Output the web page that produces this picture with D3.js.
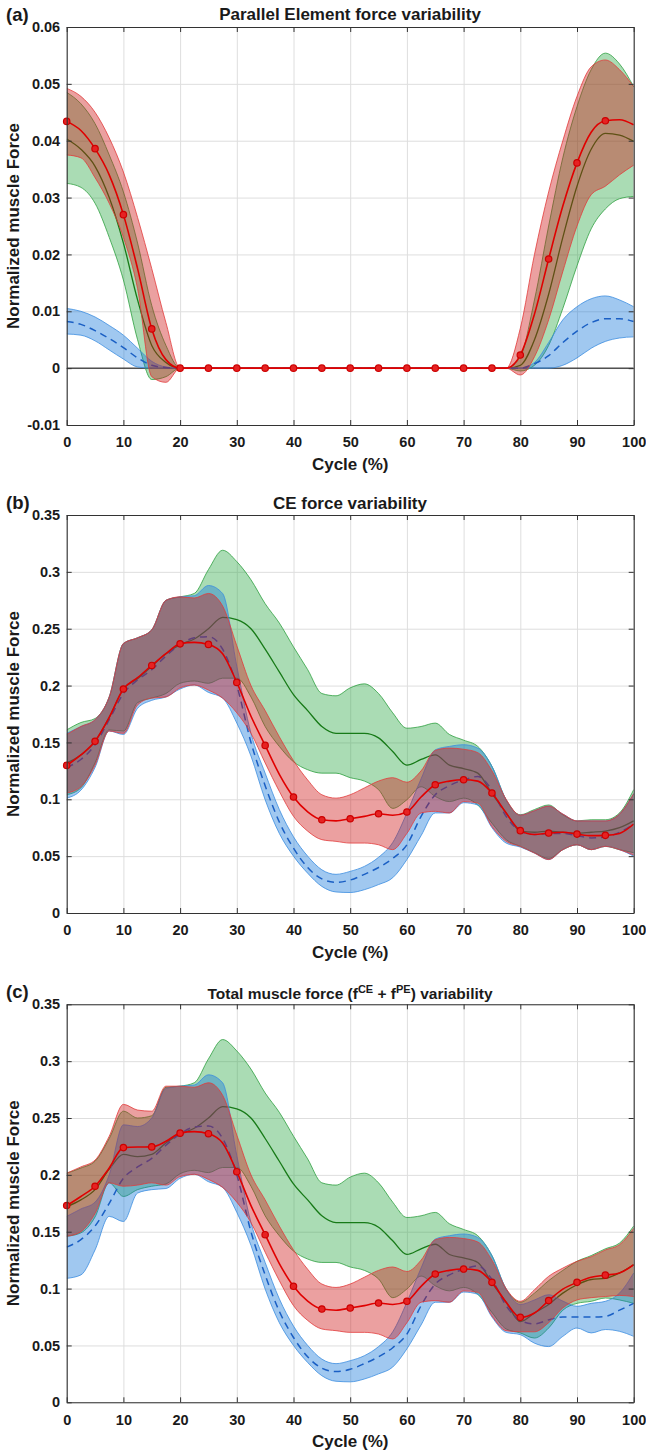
<!DOCTYPE html>
<html lang="en">
<head>
<meta charset="UTF-8">
<title>Muscle force variability</title>
<script src="https://d3js.org/d3.v7.min.js"></script>
<style>
  body { margin: 0; background: #fff; }
  svg { display: block; font-family: "Liberation Sans", Arial, sans-serif; }
  text { font-weight: bold; fill: #1a1a1a; }
</style>
</head>
<body>
<svg width="646" height="1456"></svg>
<script>
// cycle grid (%), one value every 2.5 %
const cycle = [0,2.5,5,7.5,10,12.5,15,17.5,20,22.5,25,27.5,30,32.5,35,37.5,40,42.5,45,47.5,50,
  52.5,55,57.5,60,62.5,65,67.5,70,72.5,75,77.5,80,82.5,85,87.5,90,92.5,95,97.5,100];
const markerCycle = [0,5,10,15,20,25,30,35,40,45,50,55,60,65,70,75,80,85,90,95];

const xTicks = [0,10,20,30,40,50,60,70,80,90,100];
const xTickLabels = ["0","10","20","30","40","50","60","70","80","90","100"];
const yTicksPE = [-0.01,0,0.01,0.02,0.03,0.04,0.05,0.06];
const yTickLabelsPE = ["-0.01","0","0.01","0.02","0.03","0.04","0.05","0.06"];
const yTicksF = [0,0.05,0.1,0.15,0.2,0.25,0.3,0.35];
const yTickLabelsF = ["0","0.05","0.1","0.15","0.2","0.25","0.3","0.35"];

// (a) parallel element force
const blueMeanA = [0.0082,0.0077,0.0066,0.0052,0.0036,0.0018,0.0005,0.0001,0,
  0,0,0,0,0,0,0,0,0,0,0,0,0,0,0,0,0,0,0,0,0,0,0,
  0,0.0008,0.0022,0.0045,0.0065,0.008,0.0087,0.0087,0.0082];
const blueHiA = [0.0105,0.0100,0.0090,0.0075,0.0058,0.0035,0.0012,0.0002,0,
  0,0,0,0,0,0,0,0,0,0,0,0,0,0,0,0,0,0,0,0,0,0,0,
  0,0.001,0.0045,0.0085,0.0108,0.0122,0.0127,0.012,0.0108];
const blueLoA = [0.006,0.0058,0.0048,0.0032,0.0016,0.0002,0,0,0,
  0,0,0,0,0,0,0,0,0,0,0,0,0,0,0,0,0,0,0,0,0,0,0,
  0,0,0,0.0005,0.0018,0.0035,0.0047,0.0053,0.0055];
const greenMeanA = [0.0403,0.0385,0.0355,0.030,0.022,0.012,0.004,0.001,0,
  0,0,0,0,0,0,0,0,0,0,0,0,0,0,0,0,0,0,0,0,0,0,0,
  0.0005,0.005,0.013,0.023,0.032,0.0385,0.0413,0.041,0.0399];
const greenHiA = [0.0485,0.0465,0.043,0.0375,0.031,0.022,0.011,0.004,0,
  0,0,0,0,0,0,0,0,0,0,0,0,0,0,0,0,0,0,0,0,0,0,0,
  0.002,0.012,0.025,0.037,0.046,0.0525,0.0554,0.0535,0.0495];
const greenLoA = [0.0325,0.0318,0.029,0.023,0.0155,0.005,-0.002,-0.0015,0,
  0,0,0,0,0,0,0,0,0,0,0,0,0,0,0,0,0,0,0,0,0,0,0,
  -0.0005,0.0005,0.004,0.0105,0.018,0.0245,0.028,0.0298,0.0302];
const redMeanA = [0.0434,0.0418,0.0386,0.034,0.027,0.0175,0.0069,0.0015,0,
  0,0,0,0,0,0,0,0,0,0,0,0,0,0,0,0,0,0,0,0,0,0,0,
  0.0023,0.0095,0.0192,0.0285,0.0361,0.0415,0.0435,0.0437,0.0428];
const redHiA = [0.0492,0.0478,0.045,0.0405,0.0345,0.0265,0.0175,0.008,0,
  0,0,0,0,0,0,0,0,0,0,0,0,0,0,0,0,0,0,0,0,0,0,0,
  0.007,0.020,0.031,0.040,0.0478,0.053,0.0542,0.0525,0.0495];
const redLoA = [0.0375,0.037,0.0335,0.029,0.023,0.014,-0.0015,-0.0025,0,
  0,0,0,0,0,0,0,0,0,0,0,0,0,0,0,0,0,0,0,0,0,0,0,
  -0.0012,0.002,0.0085,0.017,0.025,0.0305,0.032,0.034,0.0357];

// (b) CE force
const blueMeanB = [0.128,0.135,0.148,0.170,0.193,0.205,0.214,0.226,0.236,
  0.242,0.243,0.232,0.200,0.150,0.112,0.080,0.057,0.040,0.030,0.027,0.029,0.034,0.040,0.048,0.060,0.085,0.104,0.112,0.117,0.120,0.108,0.085,
  0.072,0.069,0.070,0.070,0.068,0.066,0.067,0.071,0.078];
const blueHiB = [0.158,0.164,0.170,0.190,0.237,0.242,0.249,0.275,0.278,
  0.279,0.288,0.281,0.217,0.158,0.123,0.091,0.067,0.050,0.038,0.034,0.0366,0.041,0.049,0.062,0.088,0.118,0.1435,0.1465,0.148,0.145,0.129,0.0996,
  0.086,0.090,0.094,0.087,0.081,0.081,0.081,0.087,0.105];
const blueLoB = [0.101,0.108,0.128,0.160,0.157,0.180,0.187,0.190,0.197,
  0.2005,0.194,0.189,0.167,0.138,0.0996,0.070,0.050,0.035,0.0234,0.0185,0.018,0.0205,0.025,0.031,0.047,0.068,0.088,0.088,0.097,0.095,0.075,0.0615,
  0.058,0.0527,0.047,0.0557,0.060,0.0557,0.0586,0.0557,0.050];
const greenMeanB = [0.132,0.139,0.151,0.172,0.197,0.206,0.217,0.228,0.236,
  0.241,0.250,0.260,0.258,0.250,0.232,0.212,0.192,0.178,0.164,0.158,0.158,0.158,0.154,0.142,0.130,0.135,0.139,0.130,0.127,0.123,0.105,0.088,
  0.072,0.071,0.072,0.071,0.070,0.071,0.072,0.075,0.081];
const greenHiB = [0.161,0.1675,0.171,0.19,0.237,0.242,0.249,0.275,0.278,
  0.281,0.302,0.319,0.309,0.293,0.272,0.255,0.234,0.214,0.193,0.191,0.198,0.2015,0.193,0.176,0.1625,0.164,0.167,0.157,0.152,0.1465,0.129,0.0996,
  0.0864,0.091,0.095,0.0864,0.081,0.082,0.082,0.088,0.1085];
const greenLoB = [0.104,0.110,0.132,0.161,0.160,0.185,0.189,0.193,0.202,
  0.204,0.202,0.2065,0.2065,0.19,0.164,0.1465,0.133,0.126,0.123,0.123,0.119,0.116,0.1085,0.092,0.0996,0.111,0.1025,0.098,0.101,0.095,0.079,0.0645,
  0.0586,0.053,0.048,0.0557,0.060,0.0557,0.0586,0.0557,0.053];
const redMeanB = [0.1298,0.139,0.151,0.172,0.197,0.207,0.2177,0.228,0.2367,
  0.238,0.2362,0.228,0.2028,0.173,0.1474,0.122,0.102,0.089,0.082,0.081,0.0829,0.085,0.0873,0.086,0.0888,0.102,0.1128,0.116,0.1172,0.116,0.1055,0.088,
  0.0724,0.069,0.0703,0.071,0.0694,0.068,0.0683,0.070,0.0782];
const redHiB = [0.157,0.164,0.170,0.19,0.237,0.242,0.249,0.275,0.278,
  0.277,0.281,0.270,0.235,0.20,0.178,0.155,0.134,0.117,0.104,0.101,0.104,0.110,0.116,0.119,0.115,0.125,0.143,0.145,0.144,0.141,0.125,0.100,
  0.086,0.090,0.094,0.087,0.081,0.081,0.081,0.087,0.105];
const redLoB = [0.1055,0.111,0.130,0.160,0.158,0.183,0.189,0.190,0.198,
  0.2005,0.196,0.189,0.176,0.158,0.132,0.107,0.085,0.072,0.0645,0.063,0.0615,0.0615,0.060,0.0557,0.070,0.088,0.0894,0.088,0.098,0.0967,0.076,0.063,
  0.0586,0.0527,0.047,0.0557,0.060,0.0557,0.0586,0.0557,0.051];

// (c) total force
const blueMeanC = [0.1365,0.143,0.155,0.175,0.197,0.207,0.2145,0.226,0.236,
  0.242,0.243,0.232,0.200,0.150,0.112,0.080,0.057,0.040,0.030,0.027,0.029,0.034,0.040,0.048,0.060,0.085,0.104,0.112,0.117,0.120,0.108,0.085,
  0.072,0.069,0.0725,0.075,0.075,0.075,0.0755,0.081,0.087];
const blueHiC = [0.1635,0.170,0.176,0.200,0.244,0.2425,0.250,0.276,0.278,
  0.279,0.288,0.281,0.217,0.158,0.123,0.091,0.067,0.050,0.038,0.034,0.0366,0.041,0.049,0.062,0.088,0.118,0.1435,0.1465,0.148,0.145,0.129,0.0996,
  0.086,0.090,0.0946,0.089,0.0844,0.087,0.0888,0.096,0.1137];
const blueLoC = [0.109,0.112,0.134,0.1635,0.159,0.184,0.187,0.188,0.197,
  0.2005,0.194,0.189,0.167,0.138,0.0996,0.070,0.050,0.035,0.0234,0.0185,0.018,0.0205,0.025,0.031,0.047,0.068,0.088,0.088,0.097,0.095,0.075,0.0615,
  0.0595,0.052,0.049,0.058,0.0653,0.061,0.064,0.0624,0.058];
const greenMeanC = [0.172,0.178,0.187,0.205,0.218,0.216,0.218,0.228,0.236,
  0.241,0.250,0.260,0.258,0.250,0.232,0.212,0.192,0.178,0.164,0.158,0.158,0.158,0.154,0.142,0.130,0.135,0.139,0.130,0.127,0.123,0.105,0.088,
  0.071,0.0785,0.086,0.096,0.1034,0.108,0.109,0.1137,0.121];
const greenHiC = [0.2015,0.206,0.212,0.232,0.256,0.250,0.252,0.277,0.278,
  0.281,0.302,0.319,0.309,0.293,0.272,0.255,0.234,0.214,0.193,0.191,0.198,0.2015,0.193,0.176,0.1625,0.164,0.167,0.157,0.152,0.1465,0.129,0.0996,
  0.088,0.096,0.107,0.116,0.124,0.129,0.135,0.140,0.155];
const greenLoC = [0.146,0.149,0.163,0.193,0.181,0.187,0.190,0.192,0.201,
  0.204,0.202,0.2065,0.2065,0.19,0.164,0.1465,0.133,0.126,0.123,0.123,0.119,0.116,0.1085,0.092,0.0996,0.111,0.1025,0.098,0.101,0.095,0.079,0.0645,
  0.061,0.0565,0.0653,0.081,0.087,0.0888,0.0917,0.090,0.087];
const redMeanC = [0.173,0.181,0.190,0.206,0.224,0.2245,0.2246,0.2295,0.2367,
  0.238,0.2362,0.228,0.2028,0.173,0.1474,0.122,0.102,0.089,0.082,0.081,0.0829,0.085,0.0873,0.086,0.0888,0.102,0.1128,0.116,0.1172,0.116,0.1055,0.088,
  0.0747,0.0785,0.0895,0.0995,0.1055,0.110,0.1118,0.1137,0.121];
const redHiC = [0.2015,0.207,0.213,0.234,0.262,0.257,0.256,0.278,0.278,
  0.277,0.281,0.270,0.235,0.20,0.178,0.155,0.134,0.117,0.104,0.101,0.104,0.110,0.116,0.119,0.115,0.125,0.143,0.145,0.144,0.141,0.125,0.100,
  0.0888,0.099,0.1108,0.118,0.124,0.128,0.134,0.1386,0.153];
const redLoC = [0.146,0.150,0.166,0.193,0.190,0.191,0.193,0.191,0.1985,
  0.2005,0.196,0.189,0.176,0.158,0.132,0.107,0.085,0.072,0.0645,0.063,0.0615,0.0615,0.060,0.0557,0.070,0.088,0.0894,0.088,0.098,0.0967,0.076,0.063,
  0.062,0.062,0.070,0.083,0.090,0.092,0.093,0.094,0.093];

const svg = d3.select("svg");
const left = 66.7, plotW = 567, plotH = 398;

// green first, then blue, then red on top
const look = {
  green: {fill: "rgb(42,167,67)",  op: 0.4, edge: "#2f9f40", line: "#177a17", width: 1.3, dash: null},
  blue:  {fill: "rgb(18,117,217)", op: 0.4, edge: "#3b8de0", line: "#1a5fc4", width: 1.5, dash: "7,5"},
  red:   {fill: "rgb(205,18,18)",  op: 0.4, edge: "#e23b3b", line: "#e00000", width: 1.6, dash: null}
};

const panels = [
  {tag: "(a)", top: 27, domain: [-0.01, 0.06], ticks: yTicksPE, tickLabels: yTickLabelsPE, zero: true,
   series: [["green", greenMeanA, greenLoA, greenHiA], ["blue", blueMeanA, blueLoA, blueHiA], ["red", redMeanA, redLoA, redHiA]]},
  {tag: "(b)", top: 515, domain: [0, 0.35], ticks: yTicksF, tickLabels: yTickLabelsF, zero: false,
   series: [["green", greenMeanB, greenLoB, greenHiB], ["blue", blueMeanB, blueLoB, blueHiB], ["red", redMeanB, redLoB, redHiB]]},
  {tag: "(c)", top: 1004.3, domain: [0, 0.35], ticks: yTicksF, tickLabels: yTickLabelsF, zero: false,
   series: [["green", greenMeanC, greenLoC, greenHiC], ["blue", blueMeanC, blueLoC, blueHiC], ["red", redMeanC, redLoC, redHiC]]}
];

const x = d3.scaleLinear().domain([0, 100]).range([left, left + plotW]);

panels.forEach((p, pi) => {
  const y = d3.scaleLinear().domain(p.domain).range([p.top + plotH, p.top]);
  const g = svg.append("g");

  // grid
  g.append("g")
    .attr("transform", `translate(0,${p.top + plotH})`)
    .call(d3.axisBottom(x).tickValues(xTicks).tickSize(-plotH).tickFormat(""))
    .call(s => s.select(".domain").remove())
    .selectAll("line").attr("stroke", "#dedede");
  g.append("g")
    .attr("transform", `translate(${left},0)`)
    .call(d3.axisLeft(y).tickValues(p.ticks).tickSize(-plotW).tickFormat(""))
    .call(s => s.select(".domain").remove())
    .selectAll("line").attr("stroke", "#dedede");

  g.append("clipPath").attr("id", "clip" + pi)
    .append("rect").attr("x", left).attr("y", p.top).attr("width", plotW).attr("height", plotH);
  const plot = g.append("g").attr("clip-path", `url(#clip${pi})`);

  if (p.zero) {
    plot.append("line")
      .attr("x1", left).attr("x2", left + plotW)
      .attr("y1", y(0)).attr("y2", y(0))
      .attr("stroke", "#000").attr("stroke-width", 1);
  }

  let redMean = null;
  p.series.forEach(([kind, mean, lo, hi]) => {
    const st = look[kind];
    const area = d3.area().curve(d3.curveMonotoneX)
      .x((d, i) => x(cycle[i])).y0((d, i) => y(lo[i])).y1((d, i) => y(hi[i]));
    const line = d3.line().curve(d3.curveMonotoneX).x((d, i) => x(cycle[i])).y(d => y(d));
    plot.append("path").attr("d", area(cycle))
      .attr("fill", st.fill).attr("fill-opacity", st.op);
    [lo, hi].forEach(edge => {
      plot.append("path").attr("d", line(edge))
        .attr("fill", "none").attr("stroke", st.edge).attr("stroke-width", 0.8);
    });
    plot.append("path").attr("d", line(mean))
      .attr("fill", "none").attr("stroke", st.line).attr("stroke-width", st.width)
      .attr("stroke-dasharray", st.dash);
    if (kind === "red") redMean = mean;
  });

  // red markers every 5 % (not clipped, like the original)
  g.selectAll(null)
    .data(markerCycle)
    .enter().append("circle")
    .attr("cx", c => x(c))
    .attr("cy", c => y(redMean[cycle.indexOf(c)]))
    .attr("r", 3.2)
    .attr("fill", "#e62222").attr("stroke", "#cc0000").attr("stroke-width", 1.2);

  // axes box with inward ticks
  const axisColor = "#333";
  const bottom = g.append("g").attr("transform", `translate(0,${p.top + plotH})`)
    .call(d3.axisBottom(x).tickValues(xTicks).tickSizeInner(-5).tickSizeOuter(0).tickPadding(12)
      .tickFormat((d, i) => xTickLabels[i]));
  const topAx = g.append("g").attr("transform", `translate(0,${p.top})`)
    .call(d3.axisTop(x).tickValues(xTicks).tickSizeInner(-5).tickSizeOuter(0).tickFormat(""));
  const leftAx = g.append("g").attr("transform", `translate(${left},0)`)
    .call(d3.axisLeft(y).tickValues(p.ticks).tickSizeInner(-5).tickSizeOuter(0).tickPadding(6.5)
      .tickFormat((d, i) => p.tickLabels[i]));
  const rightAx = g.append("g").attr("transform", `translate(${left + plotW},0)`)
    .call(d3.axisRight(y).tickValues(p.ticks).tickSizeInner(-5).tickSizeOuter(0).tickFormat(""));
  [bottom, topAx, leftAx, rightAx].forEach(a => {
    a.select(".domain").attr("stroke", axisColor).attr("stroke-width", 1.1);
    a.selectAll(".tick line").attr("stroke", axisColor);
    a.selectAll("text").attr("font-size", 14.5).attr("font-family", null).attr("fill", "#222");
  });

  // labels
  svg.append("text").attr("x", 6).attr("y", p.top - 6).attr("font-size", 18.5).text(p.tag);
  svg.append("text").attr("x", left + plotW / 2).attr("y", p.top + plotH + 45)
    .attr("text-anchor", "middle").attr("font-size", 17).text("Cycle (%)");
  svg.append("text")
    .attr("transform", `translate(18.5,${p.top + plotH / 2}) rotate(-90)`)
    .attr("text-anchor", "middle").attr("font-size", 17).text("Normalized muscle Force");
});

// titles
svg.append("text").attr("x", 350).attr("y", 20).attr("text-anchor", "middle")
  .attr("font-size", 17).text("Parallel Element force variability");
svg.append("text").attr("x", 350).attr("y", 508.5).attr("text-anchor", "middle")
  .attr("font-size", 17).text("CE force variability");
const tc = svg.append("text").attr("x", 350).attr("y", 998.5).attr("text-anchor", "middle")
  .attr("font-size", 15.5);
tc.append("tspan").text("Total muscle force (f");
tc.append("tspan").attr("dy", -6).attr("font-size", 11).text("CE");
tc.append("tspan").attr("dy", 6).text(" + f");
tc.append("tspan").attr("dy", -6).attr("font-size", 11).text("PE");
tc.append("tspan").attr("dy", 6).text(") variability");
</script>
</body>
</html>
